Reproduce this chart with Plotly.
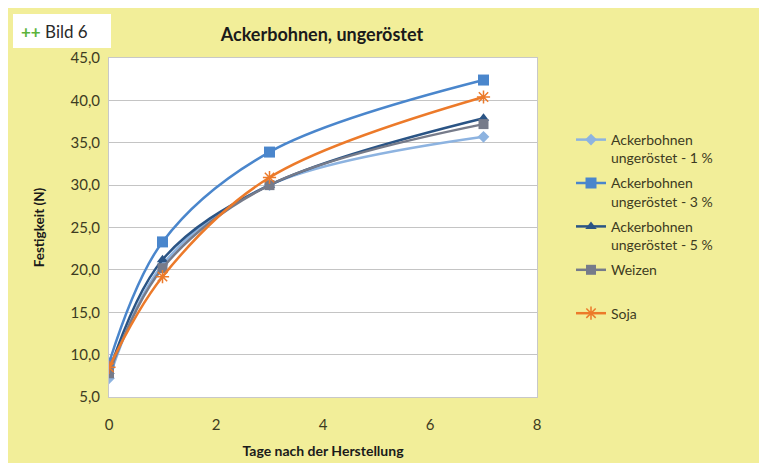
import plotly.graph_objects as go

days = [0, 1, 3, 7]
acker_1 = [7.2, 20.6, 30.0, 35.7]
acker_3 = [9.0, 23.3, 33.9, 42.4]
acker_5 = [8.0, 21.2, 30.0, 37.9]
weizen = [7.8, 20.2, 30.0, 37.2]
soja = [8.5, 19.2, 30.9, 40.4]

series = [
    ("Ackerbohnen<br>ungeröstet - 1 %", acker_1, "#8db3e0", "diamond", 9),
    ("Ackerbohnen<br>ungeröstet - 3 %", acker_3, "#4a86cc", "square", 11),
    ("Ackerbohnen<br>ungeröstet - 5 %", acker_5, "#2a5485", "triangle-up", 10),
    ("Weizen<br> ", weizen, "#767b8a", "square", 10),
    ("Soja", soja, "#ec7a2a", "asterisk-open", 11),
]

y_ticks = [5, 10, 15, 20, 25, 30, 35, 40, 45]
y_ticklabels = ["5,0", "10,0", "15,0", "20,0", "25,0", "30,0", "35,0", "40,0", "45,0"]
x_ticks = [0, 2, 4, 6, 8]

TXT = "#3d3b22"
FONT = "Lato"

FW, FH = 759, 455
L, R, T, B = 101, 230, 50, 66
W, H = FW - L - R, FH - T - B

fig = go.Figure()
for i, (name, vals, col, sym, size) in enumerate(series):
    marker = dict(symbol=sym, size=size, color=col)
    if sym == "asterisk-open":
        marker["line"] = dict(color=col, width=1.5)
    fig.add_trace(go.Scatter(
        x=days, y=vals, name=name, mode="lines+markers", legendgroup=f"g{i}",
        line=dict(color=col, width=2.5, shape="spline", smoothing=1.0),
        marker=marker,
    ))

fig.update_layout(
    width=FW, height=FH,
    margin=dict(l=L, r=R, t=T, b=B),
    paper_bgcolor="#f2ee99",
    plot_bgcolor="white",
    font=dict(family=FONT, color=TXT, size=14),
    title=dict(text="<b>Ackerbohnen, ungeröstet</b>", x=314 / FW, xanchor="center",
               y=1 - 27 / FH, yanchor="middle",
               font=dict(size=18, color="#1a1a1a", family=FONT)),
    xaxis=dict(range=[0, 8], tickvals=x_ticks, showgrid=False, zeroline=False,
               showline=True, linecolor="#c8c8c8", linewidth=1, mirror=True,
               ticks="outside", ticklen=14, tickcolor="rgba(0,0,0,0)",
               tickfont=dict(size=15, color=TXT), automargin=False,
               title=dict(text="<b>Tage nach der Herstellung</b>",
                          font=dict(size=14, color="#1a1a1a"), standoff=14)),
    yaxis=dict(range=[5, 45], tickvals=y_ticks, ticktext=y_ticklabels,
               showgrid=True, gridcolor="#c4c4c4", gridwidth=1.2, zeroline=False,
               showline=True, linecolor="#c8c8c8", linewidth=1, mirror=True,
               ticks="outside", ticklen=5, tickcolor="rgba(0,0,0,0)",
               tickfont=dict(size=15, color=TXT), automargin=False,
               title=dict(text="<b>Festigkeit (N)</b>",
                          font=dict(size=13.5, color="#1a1a1a"), standoff=22)),
    legend=dict(x=(563 - L) / W, y=(FH - B - 116) / H, xanchor="left", yanchor="top",
                bgcolor="rgba(0,0,0,0)", font=dict(size=14, color=TXT),
                valign="top", tracegroupgap=4, itemwidth=30),
    showlegend=True,
)

def px_x(p):
    return (p - L) / W
def px_y(p):
    return (FH - B - p) / H

# "Bild 6" box
fig.add_shape(type="rect", xref="paper", yref="paper", x0=px_x(5), x1=px_x(103),
              y0=px_y(40), y1=px_y(6), fillcolor="white", line_width=0, layer="above")
fig.add_annotation(xref="paper", yref="paper", x=px_x(11), y=px_y(23),
                   xanchor="left", yanchor="middle", showarrow=False,
                   text='<span style="color:#5bb33c"><b>++</b></span> Bild 6',
                   font=dict(family=FONT, size=17, color="#2a2a2a"))

fig.write_html("out.html")
